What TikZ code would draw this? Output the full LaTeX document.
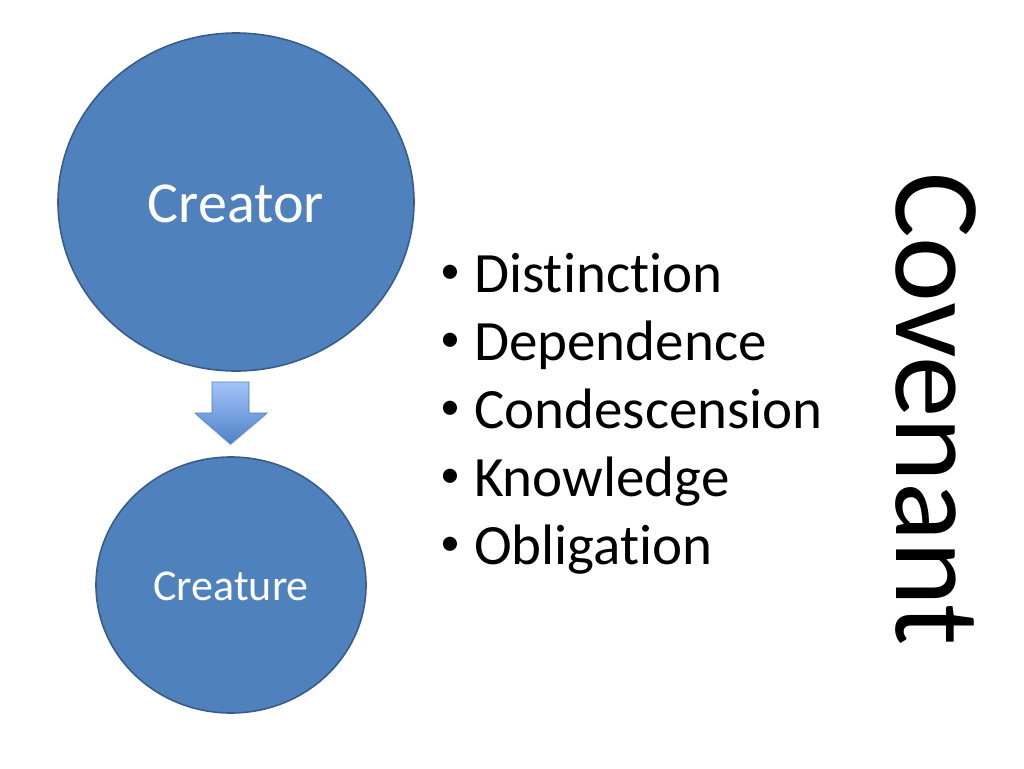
\documentclass[tikz,border=0pt]{standalone}
\usepackage{fontspec}
\setmainfont{Carlito}[Ligatures=NoCommon]
\usetikzlibrary{shapes.geometric,shadows}

\definecolor{circfill}{RGB}{79,129,189}
\definecolor{circline}{RGB}{56,93,138}
\definecolor{arrtop}{RGB}{163,196,250}
\definecolor{arrbot}{RGB}{79,129,199}
\definecolor{arrline}{RGB}{74,126,187}

\begin{document}
\begin{tikzpicture}[x=1pt, y=-1pt,
		blob/.style={ellipse, fill=circfill, draw=circline, line width=1.6pt, inner sep=0pt},
		blobtext/.style={anchor=base, inner sep=0pt, text=white},
		item/.style={anchor=base west, inner sep=0pt, font=\fontsize{57}{68}\selectfont}]
		\useasboundingbox (0,0) rectangle (1024,768);

		\node[blob, minimum width=356pt, minimum height=338pt] (creator) at (236,202) {};
		\node[blob, minimum width=270pt, minimum height=256pt] (creature) at (231,585) {};

		\node[blobtext, font=\fontsize{58}{70}\selectfont] (creatorlbl) at (236,222) {Creator};
		\node[blobtext, font=\fontsize{44}{53}\selectfont] (creaturelbl) at (231,600) {Creature};

		% block arrow between the two
		\coordinate (atip) at (230.5,444);
		\path[draw=arrline, line width=0.6pt, top color=arrtop, bottom color=arrbot,
			drop shadow={opacity=0.25, shadow xshift=0pt, shadow yshift=-2pt}]
			(212,382) -- (249,382) -- (249,413) -- (267,413) -- (atip)
			-- (195,413) -- (212,413) -- cycle;

		% bullet list
		\foreach \word [count=\i from 0] in {Distinction, Dependence, Condescension, Knowledge, Obligation} {
			\node[anchor=base, inner sep=0pt, font=\fontsize{40}{48}\selectfont] (dot\i) at (450,283.5+68*\i) {•};
			\node[item] (item\i) at (474,292+68*\i) {\word};
		}

		\node[rotate=-90, anchor=base west, inner sep=0pt, font=\fontsize{123}{148}\selectfont] (covenant) at (896,172) {Covenant};
	\end{tikzpicture}
\end{document}
